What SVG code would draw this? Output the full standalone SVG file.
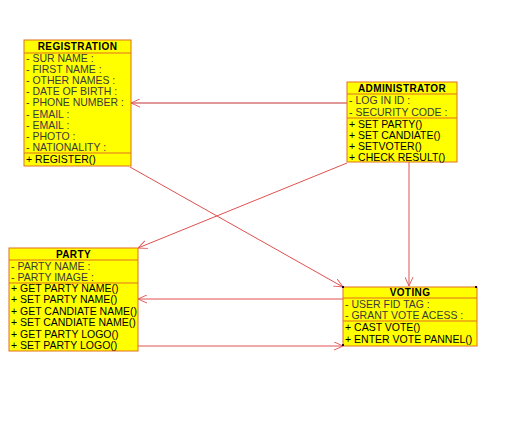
<svg xmlns="http://www.w3.org/2000/svg" width="515" height="448" viewBox="0 0 515 448">
<style>
.box{fill:#FFFF00;stroke:#E0701E;stroke-width:1}
.sep{stroke:#E0701E;stroke-width:1}
.t{font-family:"Liberation Sans",Arial,sans-serif;font-size:10px;font-weight:bold;fill:#000;text-anchor:middle;letter-spacing:0.4px}
.a{font-family:"Liberation Sans",Arial,sans-serif;font-size:10.5px;fill:#3a3a3a}
.m{font-family:"Liberation Sans",Arial,sans-serif;font-size:10.5px;fill:#000}
.c{stroke:#E05050;stroke-width:1;fill:none;marker-end:url(#arr)}
</style>
<defs>
<marker id="arr" viewBox="0 0 10 10" refX="10" refY="5" markerWidth="9" markerHeight="9" markerUnits="userSpaceOnUse" orient="auto">
<path d="M0,0.5 L10,5 L0,9.5" fill="none" stroke="#E05050" stroke-width="1"/>
</marker>
</defs>
<rect width="515" height="448" fill="#fff"/>
<g id="connectors">
<line class="c" x1="347" y1="103" x2="131" y2="103" style="stroke:#C03030"/>
<line class="c" x1="130" y1="167" x2="343" y2="287"/>
<line class="c" x1="347" y1="163" x2="138" y2="248"/>
<line class="c" x1="409" y1="162" x2="409" y2="286"/>
<line class="c" x1="343" y1="299" x2="138" y2="299"/>
<line class="c" x1="138" y1="346" x2="343" y2="346"/>
</g>
<g id="registration">
<rect class="box" x="24" y="40" width="107" height="126"/>
<line class="sep" x1="24" y1="53" x2="131" y2="53"/>
<line class="sep" x1="24" y1="153" x2="131" y2="153"/>
<text class="t" x="77.5" y="50">REGISTRATION</text>
<text class="a" x="26" y="62">- SUR NAME :</text>
<text class="a" x="26" y="73">- FIRST NAME :</text>
<text class="a" x="26" y="84">- OTHER NAMES :</text>
<text class="a" x="26" y="95">- DATE OF BIRTH :</text>
<text class="a" x="26" y="106">- PHONE NUMBER :</text>
<text class="a" x="26" y="117.5">- EMAIL :</text>
<text class="a" x="26" y="128.5">- EMAIL :</text>
<text class="a" x="26" y="139.5">- PHOTO :</text>
<text class="a" x="26" y="150.5">- NATIONALITY :</text>
<text class="m" x="26" y="163">+ REGISTER()</text>
</g>
<g id="administrator">
<rect class="box" x="347" y="82" width="110" height="80"/>
<line class="sep" x1="347" y1="94" x2="457" y2="94"/>
<line class="sep" x1="347" y1="118" x2="457" y2="118"/>
<text class="t" x="402" y="92">ADMINISTRATOR</text>
<text class="a" x="349" y="104">- LOG IN ID :</text>
<text class="a" x="349" y="116">- SECURITY CODE :</text>
<text class="m" x="349" y="128">+ SET PARTY()</text>
<text class="m" x="349" y="139">+ SET CANDIATE()</text>
<text class="m" x="349" y="150">+ SETVOTER()</text>
<text class="m" x="349" y="161">+ CHECK RESULT()</text>
</g>
<g id="party">
<rect class="box" x="9" y="248" width="129" height="103"/>
<line class="sep" x1="9" y1="260" x2="138" y2="260"/>
<line class="sep" x1="9" y1="283" x2="138" y2="283"/>
<text class="t" x="73.5" y="258">PARTY</text>
<text class="a" x="11" y="270">- PARTY NAME :</text>
<text class="a" x="11" y="281">- PARTY IMAGE :</text>
<text class="m" x="11" y="292">+ GET PARTY NAME()</text>
<text class="m" x="11" y="303">+ SET PARTY NAME()</text>
<text class="m" x="11" y="315">+ GET CANDIATE NAME()</text>
<text class="m" x="11" y="326">+ SET CANDIATE NAME()</text>
<text class="m" x="11" y="338">+ GET PARTY LOGO()</text>
<text class="m" x="11" y="349">+ SET PARTY LOGO()</text>
</g>
<g id="voting">
<rect class="box" x="343" y="287" width="134" height="59"/>
<line class="sep" x1="343" y1="298" x2="477" y2="298"/>
<line class="sep" x1="343" y1="321" x2="477" y2="321"/>
<text class="t" x="410" y="296">VOTING</text>
<text class="a" x="345" y="308">- USER FID TAG :</text>
<text class="a" x="345" y="319">- GRANT VOTE ACESS :</text>
<text class="m" x="345" y="331">+ CAST VOTE()</text>
<text class="m" x="345" y="343">+ ENTER VOTE PANNEL()</text>
<rect x="342" y="286" width="2" height="2" fill="#200040"/>
<rect x="475" y="286" width="2" height="2" fill="#200040"/>
<rect x="342" y="344" width="2" height="2" fill="#200040"/>
</g>
</svg>
